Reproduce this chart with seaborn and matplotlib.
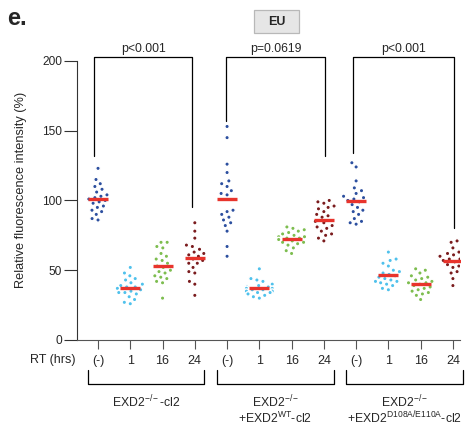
import matplotlib
matplotlib.use("Agg")
import matplotlib.pyplot as plt
import matplotlib.transforms as mtransforms
from matplotlib.patches import Rectangle
import numpy as np
import pandas as pd
import seaborn as sns

# ---- data ----
conditions = ["KO", "WT", "MUT"]
times = ["(-)", "1", "16", "24"]

ko_none = [123, 115, 112, 110, 108, 106, 104, 103, 102, 101, 100, 99, 98, 96, 95, 93, 92, 90, 87, 86]
ko_1 = [52, 48, 46, 44, 43, 41, 40, 39, 38, 38, 37, 36, 35, 34, 34, 33, 31, 29, 27, 26]
ko_16 = [70, 70, 67, 66, 62, 60, 58, 57, 55, 53, 52, 50, 49, 48, 46, 45, 44, 42, 41, 30]
ko_24 = [84, 78, 73, 68, 67, 65, 63, 62, 61, 60, 58, 57, 55, 55, 52, 49, 48, 42, 40, 32]

wt_none = [153, 145, 126, 120, 114, 112, 110, 107, 105, 104, 93, 92, 90, 88, 86, 84, 82, 78, 67, 60]
wt_1 = [51, 44, 43, 42, 40, 39, 38, 38, 37, 37, 36, 36, 35, 35, 34, 34, 33, 32, 31, 30]
wt_16 = [81, 80, 79, 78, 77, 76, 75, 74, 74, 73, 73, 72, 71, 70, 70, 69, 68, 66, 64, 62]
wt_24 = [100, 99, 98, 96, 95, 94, 92, 90, 89, 88, 85, 84, 82, 81, 80, 78, 76, 75, 73, 71]

mut_none = [127, 124, 114, 109, 107, 105, 103, 102, 101, 100, 99, 97, 95, 93, 92, 90, 87, 85, 84, 83]
mut_1 = [63, 58, 57, 55, 53, 50, 49, 48, 47, 46, 45, 44, 43, 42, 42, 41, 40, 39, 37, 36]
mut_16 = [51, 50, 48, 46, 45, 44, 43, 42, 41, 41, 40, 39, 38, 37, 36, 35, 34, 33, 32, 29]
mut_24 = [71, 70, 66, 63, 62, 61, 60, 59, 58, 58, 57, 56, 55, 54, 53, 52, 49, 48, 44, 39]

p_labels = ["p<0.001", "p=0.0619", "p<0.001"]
group_labels = [
    ["EXD2$^{\\mathrm{-/-}}$-cl2"],
    ["EXD2$^{\\mathrm{-/-}}$", "+EXD2$^{\\mathrm{WT}}$-cl2"],
    ["EXD2$^{\\mathrm{-/-}}$", "+EXD2$^{\\mathrm{D108A/E110A}}$-cl2"],
]

series = {
    ("KO", "(-)"): ko_none, ("KO", "1"): ko_1, ("KO", "16"): ko_16, ("KO", "24"): ko_24,
    ("WT", "(-)"): wt_none, ("WT", "1"): wt_1, ("WT", "16"): wt_16, ("WT", "24"): wt_24,
    ("MUT", "(-)"): mut_none, ("MUT", "1"): mut_1, ("MUT", "16"): mut_16, ("MUT", "24"): mut_24,
}

rows = []
for (cond, t), vals in series.items():
    for v in vals:
        rows.append({"group": f"{cond}|{t}", "time": t, "value": v})
df = pd.DataFrame(rows)
order = [f"{c}|{t}" for c in conditions for t in times]

palette = {"(-)": "#2c4f9f", "1": "#4fc1ec", "16": "#7dbd4f", "24": "#7a1b1d"}
mean_color = "#e8342c"

# ---- figure ----
sns.set_style("ticks")
plt.rcParams["font.family"] = ["Liberation Sans", "DejaVu Sans"]
plt.rcParams["mathtext.fontset"] = "custom"
plt.rcParams["mathtext.rm"] = "Liberation Sans"
plt.rcParams["mathtext.it"] = "Liberation Sans:italic"
plt.rcParams["mathtext.bf"] = "Liberation Sans:bold"

fig = plt.figure(figsize=(4.67, 4.25), dpi=100)
ax = fig.add_axes([0.165, 0.2, 0.820, 0.706])

# white edge only adds spacing between swarm points
sns.swarmplot(
    data=df, x="group", y="value", hue="time", order=order,
    palette=palette, size=3.2, linewidth=1.0, edgecolor="white",
    legend=False, ax=ax, zorder=2,
)
sns.pointplot(
    data=df, x="group", y="value", order=order, estimator="mean",
    errorbar=None, linestyle="none", marker="_", markersize=15,
    markeredgewidth=2.4, color=mean_color, ax=ax, zorder=5,
)

ax.set_xlim(-0.65, 11.22)
ax.set_ylim(0, 215)
ax.set_yticks([0, 50, 100, 150, 200])
ax.set_xticks(range(len(order)))
ax.set_xticklabels(times * 3)
ax.set_xlabel("")
ax.set_ylabel("Relative fluorescence intensity (%)", fontsize=9.2, labelpad=11)
ax.tick_params(axis="y", labelsize=8.6, length=9.5, width=0.8, pad=1.2, color="#333333")
ax.tick_params(axis="x", labelsize=9, length=6.5, width=0.8, pad=4.5, color="#555555")
for s in ["top", "right"]:
    ax.spines[s].set_visible(False)
ax.spines["left"].set_bounds(0, 200)
ax.spines["left"].set_color("#333333")
ax.spines["bottom"].set_color("#555555")
ax.spines["left"].set_linewidth(0.8)
ax.spines["bottom"].set_linewidth(0.8)

# significance brackets
bracket_x = [(-0.12, 2.92), (3.97, 7.03), (7.9, 11.03)]
bracket_low = [(132, 95), (157, 132), (134, 80)]
top = 203
for (xl, xr), (yl, yr), lab in zip(bracket_x, bracket_low, p_labels):
    ax.plot([xl, xl, xr, xr], [yl, top, top, yr], color="black", lw=0.9,
            clip_on=False, zorder=3)
    ax.text((xl + xr) / 2, top + 1.5, lab, ha="center", va="bottom", fontsize=8.8)

# group brackets under the axis
trans = mtransforms.blended_transform_factory(ax.transData, ax.transAxes)
for i, labs in enumerate(group_labels):
    x0, x1 = i * 4 - 0.3, i * 4 + 3.3
    ax.plot([x0, x0, x1, x1], [-0.1, -0.147, -0.147, -0.1], color="black",
            lw=0.9, transform=trans, clip_on=False)
    for j, lab in enumerate(labs):
        ax.text(i * 4 + 1.5, -0.207 - 0.053 * j, lab, transform=trans,
                ha="center", va="center", fontsize=8.8)

ax.text(-0.005, -0.068, "RT (hrs)", transform=ax.transAxes, ha="right",
        va="center", fontsize=9)

fig.text(0.015, 0.957, "e.", fontsize=17, fontweight="bold", ha="left", va="center")
fig.patches.append(Rectangle((0.544, 0.9224), 0.0964, 0.054, transform=fig.transFigure,
                             facecolor="#e6e6e6", edgecolor="#b8b8b8", linewidth=0.9))
fig.text(0.592, 0.949, "EU", fontsize=9, fontweight="bold", ha="center", va="center")

fig.savefig("out.png", dpi=100)
